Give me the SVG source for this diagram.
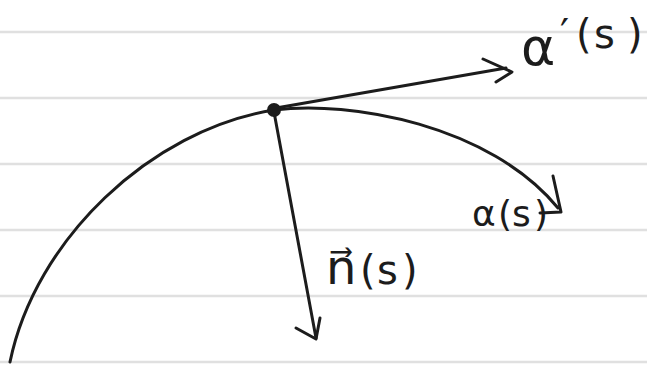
<svg xmlns="http://www.w3.org/2000/svg" width="647" height="369" viewBox="0 0 647 369">
<style>
.rule{stroke:#e0e0e0;stroke-width:2.5;fill:none}
.ink{stroke:#1c1c1c;stroke-width:3;fill:none;stroke-linecap:round;stroke-linejoin:round}
.lbl{font-family:"DejaVu Sans","Liberation Sans",sans-serif;fill:#1c1c1c}
</style>
<rect width="647" height="369" fill="#ffffff"/>
<g id="paper">
<line class="rule" x1="0" y1="32" x2="647" y2="32"/>
<line class="rule" x1="0" y1="98" x2="647" y2="98"/>
<line class="rule" x1="0" y1="164" x2="647" y2="164"/>
<line class="rule" x1="0" y1="230" x2="647" y2="230"/>
<line class="rule" x1="0" y1="296" x2="647" y2="296"/>
<line class="rule" x1="0" y1="362" x2="647" y2="362"/>
</g>
<g id="connectors">
<path id="curve-left" class="ink" d="M10,362 C35,240 150,130 274,110"/>
<path id="curve-right" class="ink" d="M274,110 C350,100 490,125 558,208"/>
<path class="ink" d="M553,176 L561,212 L540,213"/>
<path id="tangent" class="ink" d="M276,108 L506,68"/>
<path class="ink" d="M483,59 L512,72 L496,82"/>
<path id="normal" class="ink" d="M274,112 L316,338"/>
<path class="ink" d="M296,328 L316,339 L320,318"/>
</g>
<g id="point">
<circle cx="274" cy="110" r="7" fill="#1c1c1c"/>
</g>
<g id="label-tangent">
<text class="lbl" x="521" y="65" font-size="52">α</text>
<text class="lbl" x="560 576 594 627" y="48" font-size="40">′(s)</text>
</g>
<g id="label-curve">
<text class="lbl" x="472 498 512 534" y="226" font-size="36">α(s)</text>
</g>
<g id="label-normal">
<text class="lbl" x="326" y="284" font-size="48">n⃗</text>
<text class="lbl" x="360 377 402" y="284" font-size="40">(s)</text>
</g>
</svg>
